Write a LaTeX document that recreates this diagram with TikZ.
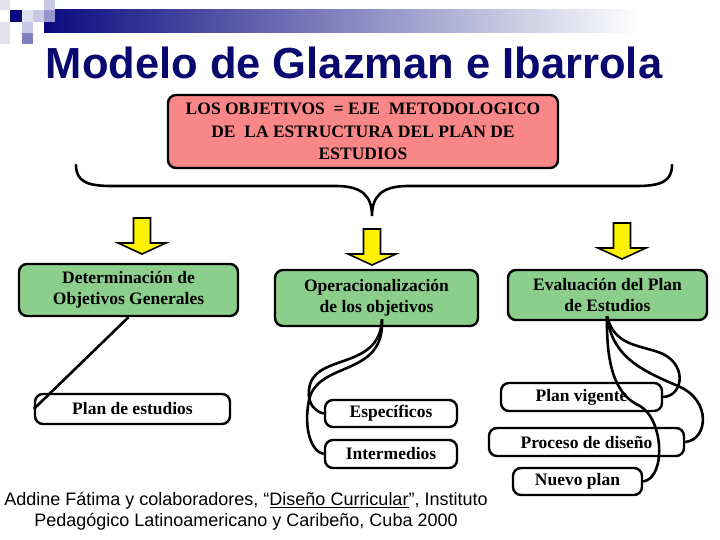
\documentclass[tikz,border=0pt]{standalone}
\usepackage{fontspec}
\setmainfont{Liberation Serif}
\newfontfamily\arialf{Liberation Sans}
\usetikzlibrary{calc}
\definecolor{navyt}{RGB}{8,8,110}
\definecolor{pinkfill}{RGB}{250,135,135}
\definecolor{greenfill}{RGB}{140,206,140}
\definecolor{sq1}{RGB}{10,10,128}
\definecolor{sq2}{RGB}{225,225,240}
\definecolor{sq3}{RGB}{200,200,230}
\definecolor{sq4}{RGB}{150,150,205}
\definecolor{sq5}{RGB}{128,128,192}
\begin{document}
\begin{tikzpicture}[x=1pt,y=-1pt,
  boxbase/.style={draw=black,line width=2.4pt,rounded corners=8pt,align=center,
     font=\bfseries\fontsize{17.5}{21}\selectfont,inner sep=0pt},
  redbox/.style={boxbase,fill=pinkfill,font=\bfseries\fontsize{17.5}{22.5}\selectfont},
  greenbox/.style={boxbase,fill=greenfill},
  whitebox/.style={boxbase,fill=white},
  conn/.style={draw=black,line width=2.6pt},
  yarrow/.pic={\draw[fill=yellow,draw=black,line width=1.6pt,line join=miter]
     (-8.5,0) -- (8.5,0) -- (8.5,25) -- (24,25) -- (0,36) -- (-24,25) -- (-8.5,25) -- cycle;}
]
\useasboundingbox (0,0) rectangle (720,540);
\fill[white] (0,0) rectangle (720,540);
% header decoration
\shade[left color=sq1,right color=white] (44,10) rectangle (640,33);
\fill[sq1] (10,10) rectangle (22,22);
\fill[sq2] (22,10) rectangle (33,22);
\fill[sq3] (33,10) rectangle (44,22);
\fill[sq3] (44,0) rectangle (55,10);
\fill[sq4] (44,10) rectangle (55,22);
\fill[sq3] (22,22) rectangle (33,33);
\fill[sq5] (22,33) rectangle (33,44);
\fill[sq2] (0,22) rectangle (10,44);
\fill[sq2] (0,0) rectangle (10,10);
% title
\node[font=\arialf\bfseries\fontsize{43.5}{46}\selectfont,text=navyt,inner sep=0pt] (title) at (354,63) {Modelo de Glazman e Ibarrola};
% top box
\node[redbox,minimum width=390,minimum height=73] (obj) at (363,131.5)
  {LOS OBJETIVOS\ \ = EJE\ \ METODOLOGICO\\DE\ \ LA ESTRUCTURA DEL PLAN DE\\ESTUDIOS};
% brace
\draw[line width=2.6pt,line cap=round] (76,165) .. controls (76,182) and (88,186) .. (112,186)
  -- (336,186) .. controls (362,186) and (372,196) .. (372,216)
  .. controls (372,196) and (382,186) .. (408,186) -- (636,186)
  .. controls (660,186) and (672,182) .. (672,165);
% arrows
\pic at (142,218) {yarrow};
\pic at (372,229) {yarrow};
\pic at (622,223) {yarrow};
% green boxes
\node[greenbox,minimum width=219,minimum height=52] (gen) at (128.5,290) {Determinación de\\Objetivos Generales};
\node[greenbox,minimum width=203,minimum height=56] (oper) at (376.5,298) {Operacionalización\\de los objetivos};
\node[greenbox,minimum width=199,minimum height=50] (eval) at (607.5,295) {Evaluación del Plan\\de Estudios};
% white boxes
\node[whitebox,minimum width=195,minimum height=30] (plan) at (132.5,409) {Plan de estudios};
\node[whitebox,minimum width=132,minimum height=27] (espec) at (391,413.5) {Específicos};
\node[whitebox,minimum width=132,minimum height=28] (inter) at (391,454) {Intermedios};
\node[whitebox,minimum width=161,minimum height=28] (vig) at (581.5,397) {Plan vigente};
\node[whitebox,minimum width=195,minimum height=28] (proc) at (586.5,442) {Proceso de diseño};
\node[whitebox,minimum width=129,minimum height=27] (nuevo) at (577.5,481.5) {Nuevo plan};
% connector start points
\coordinate (gstart) at (gen.south);
\coordinate (mstart) at ([xshift=5.5pt,yshift=8pt]oper.south);
\coordinate (rstart) at ([xshift=-0.5pt,yshift=5pt]eval.south);
% connectors
\draw[conn] (gstart) -- (plan.west);
\draw[conn] (mstart) .. controls (380,372) and (312,352) .. (309,390)
  .. controls (307,404) and (316,412) .. (espec.west);
\draw[conn] (mstart) .. controls (385,378) and (318,360) .. (309,400)
  .. controls (303,430) and (312,452) .. (inter.west);
\draw[conn] (rstart) .. controls (614,345) and (638,345) .. (658,352)
  .. controls (688,362) and (684,396) .. (vig.east);
\draw[conn] (rstart) .. controls (612,356) and (640,370) .. (678,386)
  .. controls (712,400) and (708,440) .. (proc.east);
\draw[conn] (rstart) .. controls (606,372) and (618,396) .. (640,406)
  .. controls (664,420) and (666,478) .. (nuevo.east);
% footnote
\node[font=\arialf\fontsize{18}{21}\selectfont,align=center,inner sep=0pt] (foot) at (246,511)
  {Addine Fátima y colaboradores, “\underline{Diseño Curricular}”, Instituto\\Pedagógico Latinoamericano y Caribeño, Cuba 2000};
\end{tikzpicture}
\end{document}
